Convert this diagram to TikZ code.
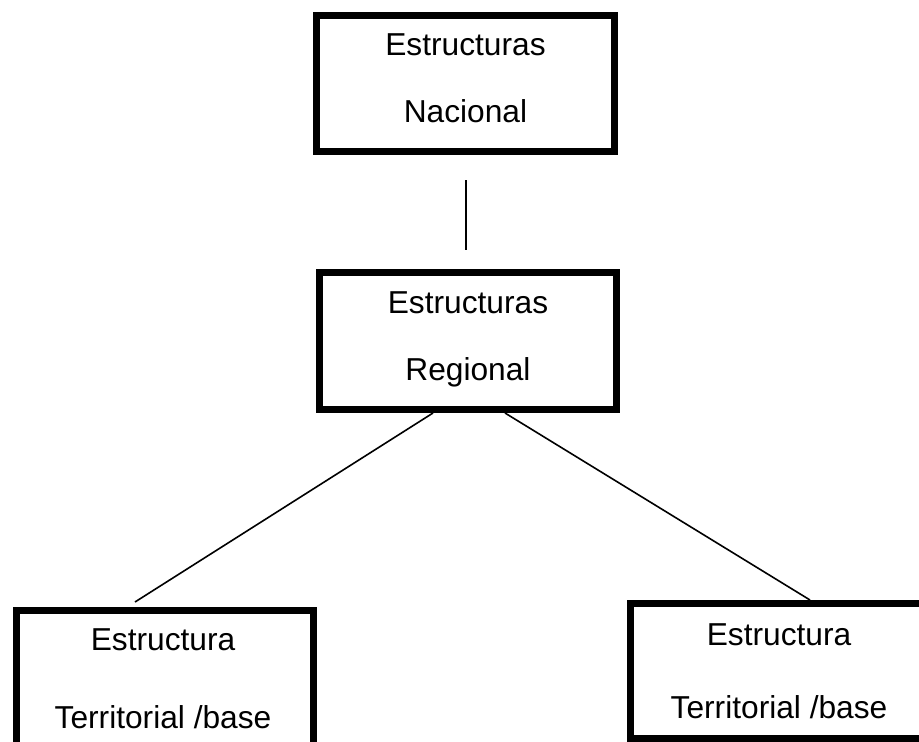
\documentclass[tikz,border=0pt]{standalone}
\usepackage{fontspec}
\setmainfont{Liberation Sans}
\tikzset{
  box/.style={draw=black, line width=7pt, inner sep=0pt, fill=white},
  lbl/.style={anchor=base, inner sep=0pt, font=\fontsize{31.7}{38}\selectfont},
  conn/.style={draw=black, line width=1.6pt}
}
\begin{document}
\begin{tikzpicture}[x=1pt,y=-1pt]
\useasboundingbox (0,0) rectangle (919,742);
\clip (0,0) rectangle (919,742);
\fill[white] (0,0) rectangle (919,742);
% boxes
\node[box, minimum width=298pt, minimum height=136pt] (nac) at (465.5,83.5) {};
\node[box, minimum width=297pt, minimum height=137pt] (reg) at (468,341) {};
\node[box, minimum width=297pt, minimum height=150pt] (terl) at (165,685.5) {};
\node[box, minimum width=297pt, minimum height=135pt] (terr) at (779,671) {};
% texts
\node[lbl] (t1) at (465.5,55) {Estructuras};
\node[lbl] (t2) at (465.5,122) {Nacional};
\node[lbl] (t3) at (468,313) {Estructuras};
\node[lbl] (t4) at (468,380) {Regional};
\node[lbl] (t5) at (163,650) {Estructura};
\node[lbl] (t6) at (163,728) {Territorial /base};
\node[lbl] (t7) at (779,645) {Estructura};
\node[lbl] (t8) at (779,718) {Territorial /base};
% connectors
\coordinate (v1) at (466,180);
\coordinate (v2) at (466,250);
\coordinate (r1) at (433,413);
\coordinate (r2) at (505,413);
\coordinate (l1) at (135,602);
\coordinate (l2) at (810,600);
\draw[conn] (v1) -- (v2);
\draw[conn] (r1) -- (l1);
\draw[conn] (r2) -- (l2);
\end{tikzpicture}
\end{document}
